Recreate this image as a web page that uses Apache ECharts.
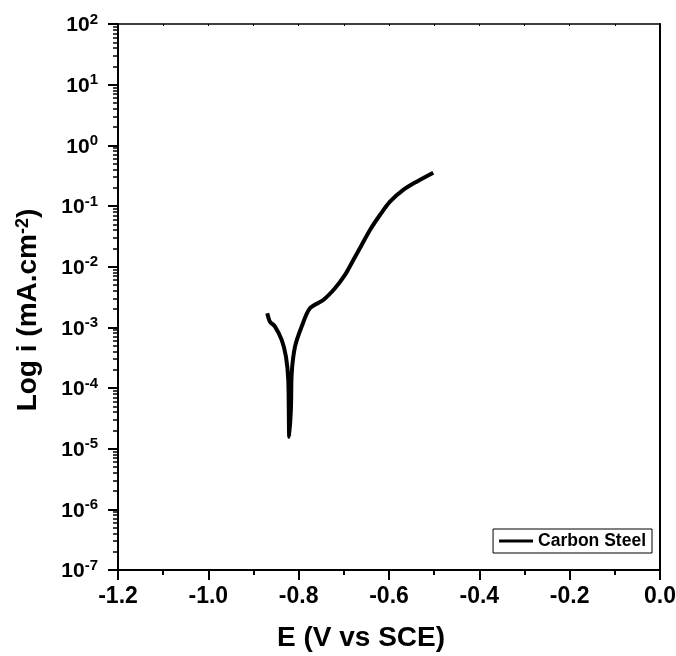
<!DOCTYPE html>
<html>
<head>
<meta charset="utf-8">
<script src="https://cdn.jsdelivr.net/npm/echarts@6/dist/echarts.min.js"></script>
<style>
html,body{margin:0;padding:0;background:#fff;}
#chart{width:676px;height:656px;}
</style>
</head>
<body>
<div id="chart"></div>
<script>
// Potential E (V vs SCE)
const potentialE = [-0.8695, -0.8635, -0.8524, -0.8376, -0.8281, -0.8230, -0.8208, -0.8170, -0.8154, -0.8081, -0.7933, -0.7750, -0.7455, -0.7196, -0.6975, -0.6790, -0.6605, -0.6421, -0.6200, -0.5978, -0.5684, -0.5387, -0.5020];
// Current density i (mA.cm-2)
const currentI = [1.71e-3, 1.24e-3, 1.03e-3, 6.2e-4, 3.28e-4, 1.36e-4, 1.57e-5, 4.9e-5, 1.75e-4, 4.8e-4, 1.03e-3, 2.06e-3, 2.82e-3, 4.40e-3, 7.30e-3, 1.29e-2, 2.28e-2, 4.03e-2, 7.11e-2, 0.118, 0.184, 0.252, 0.354];
const seriesName = 'Carbon Steel';
const xTicks = [-1.2, -1.0, -0.8, -0.6, -0.4, -0.2, 0.0];
const yDecades = [-7, -6, -5, -4, -3, -2, -1, 0, 1, 2];

const FONT = 'Arial, "Liberation Sans", sans-serif';
const minorVals = [];
for (let d = yDecades[0]; d < yDecades[yDecades.length - 1]; d++) {
  for (let m = 2; m <= 9; m++) minorVals.push(m * Math.pow(10, d));
}
const yMin = Math.pow(10, yDecades[0]);
const yMax = Math.pow(10, yDecades[yDecades.length - 1]);
const gridRect = {left: 118, right: 16, top: 24, bottom: 86, containLabel: false, outerBoundsMode: 'none'};

const chart = echarts.init(document.getElementById('chart'), null, {renderer: 'canvas'});
chart.setOption({
  animation: false,
  backgroundColor: '#ffffff',
  grid: [Object.assign({}, gridRect), Object.assign({}, gridRect)],
  legend: {
    right: 24, top: 529,
    padding: [3, 6],
    borderColor: '#000', borderWidth: 1, borderRadius: 0,
    icon: 'rect', itemWidth: 34, itemHeight: 3, itemGap: 5,
    textStyle: {fontFamily: FONT, fontWeight: 'bold', fontSize: 17.5, color: '#000'},
    data: [seriesName]
  },
  xAxis: [{
    gridIndex: 0,
    type: 'value', min: xTicks[0], max: xTicks[xTicks.length - 1], interval: 0.2,
    name: 'E (V vs SCE)', nameLocation: 'middle', nameGap: 54,
    nameTextStyle: {fontFamily: FONT, fontWeight: 'bold', fontSize: 28, color: '#000', padding: [0, 56, 0, 0]},
    axisLine: {show: true, onZero: false, lineStyle: {color: '#000', width: 2}},
    axisTick: {show: true, inside: false, length: 10, lineStyle: {color: '#000', width: 2}},
    minorTick: {show: true, splitNumber: 2, length: 5, lineStyle: {color: '#000', width: 2}},
    axisLabel: {margin: 15, fontFamily: FONT, fontWeight: 'bold', fontSize: 23, color: '#000',
      formatter: v => v.toFixed(1)},
    splitLine: {show: false}
  }, {
    gridIndex: 0,
    type: 'value', position: 'top', min: xTicks[0], max: xTicks[xTicks.length - 1], interval: 0.1,
    axisLine: {show: true, onZero: false, lineStyle: {color: '#000', width: 1.5}},
    axisTick: {show: true, inside: true, length: 2, lineStyle: {color: '#000', width: 1}},
    axisLabel: {show: false}, splitLine: {show: false}
  }, {
    gridIndex: 1,
    type: 'value', min: xTicks[0], max: xTicks[xTicks.length - 1],
    axisLine: {show: false, onZero: false}, axisTick: {show: false}, axisLabel: {show: false}, splitLine: {show: false}
  }],
  yAxis: [{
    gridIndex: 0,
    type: 'log', logBase: 10, min: yMin, max: yMax, splitNumber: 9,
    name: 'Log i (mA.cm{s|-2})', nameLocation: 'middle', nameGap: 76,
    nameTextStyle: {fontFamily: FONT, fontWeight: 'bold', fontSize: 28, color: '#000', padding: [0, 26, 0, 0],
      rich: {s: {fontFamily: FONT, fontWeight: 'bold', fontSize: 18, color: '#000', verticalAlign: 'top', lineHeight: 14}}},
    axisLine: {show: true, onZero: false, lineStyle: {color: '#000', width: 2}},
    axisTick: {show: true, inside: false, length: 10, lineStyle: {color: '#000', width: 2}},
    axisLabel: {margin: 20, color: '#000',
      formatter: v => '{b|10}{s|' + Math.round(Math.log10(v)) + '}',
      rich: {
        b: {fontFamily: FONT, fontWeight: 'bold', fontSize: 21, color: '#000', verticalAlign: 'bottom', lineHeight: 24},
        s: {fontFamily: FONT, fontWeight: 'bold', fontSize: 15, color: '#000', verticalAlign: 'top', lineHeight: 14}
      }},
    splitLine: {show: false}
  }, {
    gridIndex: 0,
    type: 'log', logBase: 10, min: yMin, max: yMax, position: 'right',
    axisLine: {show: true, onZero: false, lineStyle: {color: '#000', width: 2}},
    axisTick: {show: false}, axisLabel: {show: false}, splitLine: {show: false}
  }, {
    gridIndex: 1,
    type: 'log', logBase: 10, min: yMin, max: yMax, position: 'left',
    axisLine: {show: false, onZero: false},
    axisTick: {show: true, inside: false, length: 5, customValues: minorVals, lineStyle: {color: '#000', width: 1.5}},
    axisLabel: {show: false}, splitLine: {show: false}
  }],
  series: [{
    name: seriesName, type: 'line', xAxisIndex: 0, yAxisIndex: 0,
    data: potentialE.map((e, k) => [e, currentI[k]]),
    symbol: 'none', smooth: 0.3,
    lineStyle: {color: '#000', width: 4},
    itemStyle: {color: '#000'}
  }]
});
</script>
</body>
</html>
